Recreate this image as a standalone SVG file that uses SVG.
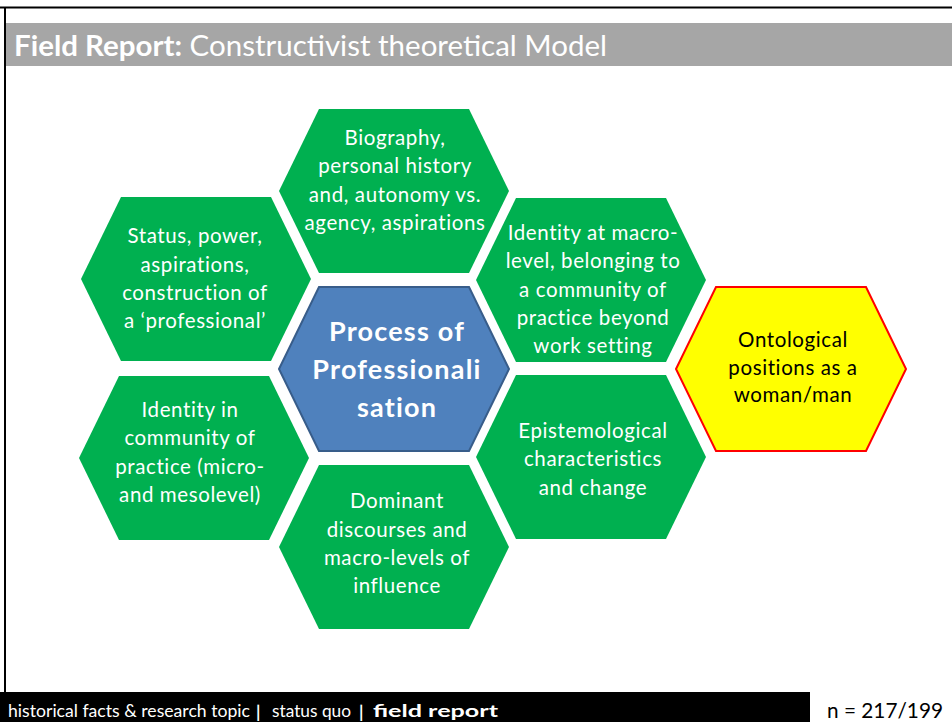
<svg xmlns="http://www.w3.org/2000/svg" width="952" height="722" viewBox="0 0 952 722">
<style>
.hexg{fill:#00B050;}
.t{font-family:Lato,"Open Sans",sans-serif;font-size:20.5px;letter-spacing:0.6px;fill:#FFFFFF;text-anchor:middle;}
.tb{font-family:Lato,"Open Sans",sans-serif;font-size:27px;letter-spacing:1.2px;font-weight:bold;fill:#FFFFFF;text-anchor:middle;}
.ty{font-family:Lato,"Open Sans",sans-serif;font-size:20.5px;letter-spacing:0.6px;fill:#000000;text-anchor:middle;}
.hdr{font-family:Lato,"Open Sans",sans-serif;font-size:28px;fill:#FFFFFF;}
.ft{font-family:Lato,"Open Sans",sans-serif;font-size:17px;fill:#FFFFFF;}
</style>
<defs>
<polygon id="hex" points="-115,0 -75,-82 75,-82 115,0 75,82 -75,82"/>
</defs>
<rect x="0" y="0" width="952" height="722" fill="#FFFFFF"/>
<line x1="0" y1="7.5" x2="952" y2="7.5" stroke="#000000" stroke-width="2"/>
<line x1="5" y1="7" x2="5" y2="692" stroke="#000000" stroke-width="2"/>
<rect x="6" y="23" width="946" height="43" fill="#A6A6A6"/>
<text class="hdr" x="14" y="56" textLength="593" lengthAdjust="spacingAndGlyphs"><tspan font-weight="bold">Field Report:</tspan> Constructivist theoretical Model</text>

<g id="connectors"></g>

<g id="node-biography">
<use href="#hex" x="394" y="191" class="hexg"/>
<text class="t" x="395" y="145">Biography,</text>
<text class="t" x="395" y="173">personal history</text>
<text class="t" x="395" y="202">and, autonomy vs.</text>
<text class="t" x="395" y="230">agency, aspirations</text>
</g>
<g id="node-status">
<use href="#hex" x="196" y="279" class="hexg"/>
<text class="t" x="195" y="243">Status, power,</text>
<text class="t" x="195" y="272">aspirations,</text>
<text class="t" x="195" y="300">construction of</text>
<text class="t" x="195" y="328">a ‘professional’</text>
</g>
<g id="node-identity-macro">
<use href="#hex" x="591" y="280" class="hexg"/>
<text class="t" x="593" y="240">Identity at macro-</text>
<text class="t" x="593" y="268">level, belonging to</text>
<text class="t" x="593" y="297">a community of</text>
<text class="t" x="593" y="325">practice beyond</text>
<text class="t" x="593" y="353">work setting</text>
</g>
<g id="node-center">
<use href="#hex" x="394" y="369" fill="#4F81BD" stroke="#385D8A" stroke-width="2"/>
<text class="tb" x="397" y="341">Process of</text>
<text class="tb" x="397" y="379">Professionali</text>
<text class="tb" x="397" y="417">sation</text>
</g>
<g id="node-ontological">
<use href="#hex" x="791" y="369" fill="#FFFF00" stroke="#FF0000" stroke-width="2"/>
<text class="ty" x="793" y="347">Ontological</text>
<text class="ty" x="793" y="375">positions as a</text>
<text class="ty" x="793" y="402">woman/man</text>
</g>
<g id="node-identity-micro">
<use href="#hex" x="194" y="458" class="hexg"/>
<text class="t" x="190" y="417">Identity in</text>
<text class="t" x="190" y="445">community of</text>
<text class="t" x="190" y="474">practice (micro-</text>
<text class="t" x="190" y="502">and mesolevel)</text>
</g>
<g id="node-epistemological">
<use href="#hex" x="591" y="457" class="hexg"/>
<text class="t" x="593" y="438">Epistemological</text>
<text class="t" x="593" y="466">characteristics</text>
<text class="t" x="593" y="495">and change</text>
</g>
<g id="node-dominant">
<use href="#hex" x="394" y="547" class="hexg"/>
<text class="t" x="397" y="508">Dominant</text>
<text class="t" x="397" y="537">discourses and</text>
<text class="t" x="397" y="565">macro-levels of</text>
<text class="t" x="397" y="593">influence</text>
</g>

<rect x="0" y="692" width="810" height="30" fill="#000000"/>
<text class="ft" x="8" y="717" textLength="242" lengthAdjust="spacingAndGlyphs">historical facts &amp; research topic</text>
<text class="ft" x="256" y="718" font-weight="bold" font-size="22">|</text>
<text class="ft" x="272" y="717" textLength="79" lengthAdjust="spacingAndGlyphs">status quo</text>
<text class="ft" x="359" y="718" font-weight="bold" font-size="22">|</text>
<text class="ft" x="373" y="717" font-size="22" font-weight="bold" textLength="125" lengthAdjust="spacingAndGlyphs">field report</text>
<text x="827" y="718" font-family="Lato,'Open Sans',sans-serif" font-size="21" fill="#000000" textLength="116" lengthAdjust="spacingAndGlyphs">n = 217/199</text>
</svg>
